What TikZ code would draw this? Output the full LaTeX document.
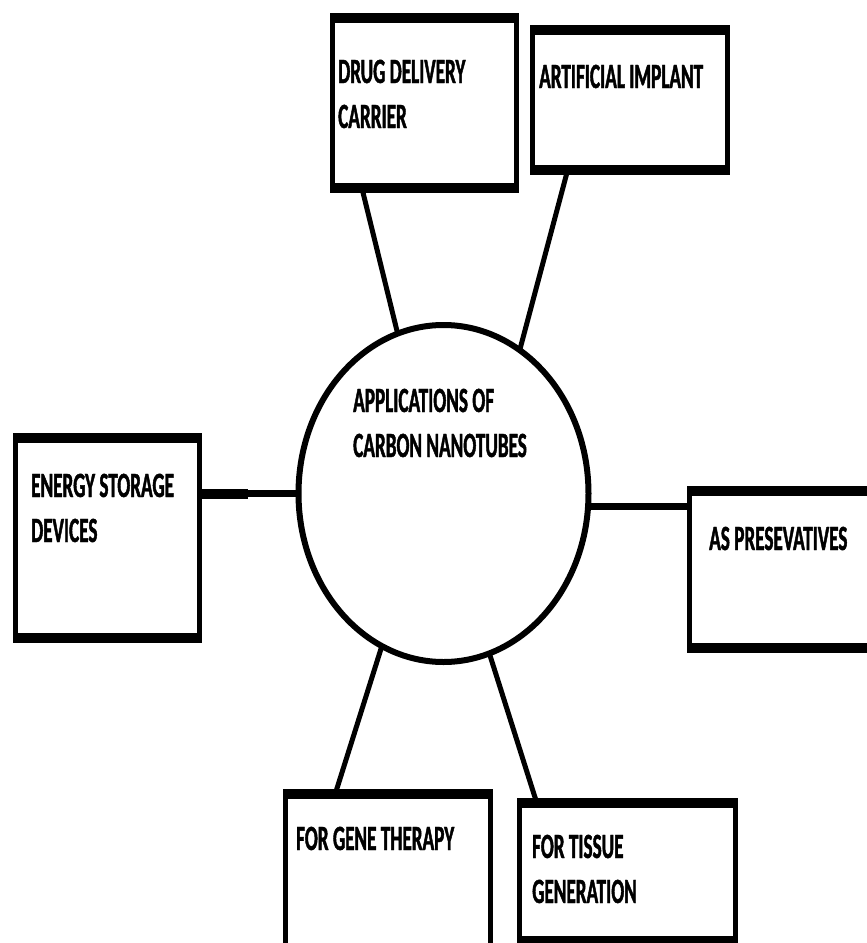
\documentclass[tikz,border=0pt]{standalone}
\usepackage{fontspec}
\newfontfamily\labfont[FakeStretch=0.54,BoldFeatures={FakeBold=1.2}]{Carlito}
\usetikzlibrary{shapes.geometric,calc}
\tikzset{
  boxst/.style={draw=black, fill=white, line width=5pt, rectangle, inner sep=0pt, outer sep=0pt},
  lab/.style={anchor=base west, inner sep=0pt, align=left, font=\labfont\bfseries\fontsize{35.5}{45}\selectfont},
  conn/.style={draw=black, line width=5pt},
}
\begin{document}
\begin{tikzpicture}[x=1pt,y=-1pt]
\useasboundingbox (0,0) rectangle (867,943);
\clip (0,0) rectangle (867,943);
\fill[white] (0,0) rectangle (867,943);
% centre
\node[ellipse, draw=black, line width=6pt, minimum width=290pt, minimum height=337pt, inner sep=0pt, outer sep=0pt] (c) at (443.5,493.5) {};
% boxes
\node[boxst, minimum width=184pt, minimum height=175pt] (drug) at (424.5,103) {};
\node[boxst, minimum width=195pt, minimum height=145pt] (art) at (630,100) {};
\node[boxst, minimum width=184pt, minimum height=205pt] (en) at (107.5,538) {};
\node[boxst, minimum width=208pt, minimum height=162pt] (pr) at (793.5,569.5) {};
\node[boxst, minimum width=205pt, minimum height=166pt] (ge) at (388,874.5) {};
\node[boxst, minimum width=216pt, minimum height=143pt] (ti) at (627.5,872) {};
% thicker top and bottom bars
\foreach \b in {drug,art,en,pr,ge,ti}{
  \fill[black] ([xshift=-2.5pt,yshift=2.5pt]\b.north west) rectangle ([xshift=2.5pt,yshift=-7.5pt]\b.north east);
  \fill[black] ([xshift=-2.5pt,yshift=-2.5pt]\b.south west) rectangle ([xshift=2.5pt,yshift=7.5pt]\b.south east);
}
% connectors
\draw[conn] ([xshift=-62pt]drug.south) -- (c.106);
\draw[conn] ([xshift=-63pt]art.south) -- (c.62);
\draw[draw=black, line width=10pt] (en.east |- c.west) -- ++(48,0);
\draw[draw=black, line width=7pt] (en.east |- c.west) -- (c.west);
\draw[draw=black, line width=7pt] (c.-5) -- (c.-5 -| pr.west);
\draw[conn] (c.248) -- ([xshift=-52pt]ge.north);
\draw[conn] (c.-74) -- ([xshift=-91.5pt]ti.north);
% labels (multi-line nodes: base = last line)
\node[lab] (tdrug) at (338,128) {DRUG DELIVERY\\CARRIER};
\node[lab] (tart) at (539,88) {ARTIFICIAL IMPLANT};
\node[lab] (tc) at (353,457) {APPLICATIONS OF\\CARBON NANOTUBES};
\node[lab] (ten) at (31,542) {ENERGY STORAGE\\DEVICES};
\node[lab] (tpr) at (709,550) {AS PRESEVATIVES};
\node[lab] (tge) at (296,850) {FOR GENE THERAPY};
\node[lab] (tti) at (532,903) {FOR TISSUE\\GENERATION};
\end{tikzpicture}
\end{document}
